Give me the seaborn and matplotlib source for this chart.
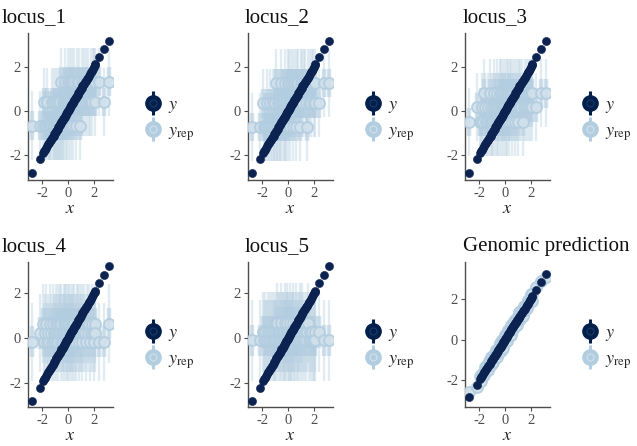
import numpy as np
import pandas as pd
import matplotlib
matplotlib.use("Agg")
import matplotlib.pyplot as plt
import seaborn as sns
from matplotlib.lines import Line2D

# ---------------- data ----------------
y_obs = [-2.80, -2.20, -1.92, -1.84, -1.76, -1.68, -1.60, -1.52, -1.45, -1.38,
         -1.31, -1.24, -1.18, -1.12, -1.06, -1.00, -0.95, -0.90, -0.85, -0.80,
         -0.75, -0.70, -0.65, -0.60, -0.55, -0.50, -0.46, -0.42, -0.38, -0.34,
         -0.30, -0.26, -0.22, -0.18, -0.14, -0.10, -0.06, -0.02, 0.02, 0.06,
         0.10, 0.14, 0.18, 0.22, 0.26, 0.30, 0.34, 0.38, 0.42, 0.46,
         0.50, 0.55, 0.60, 0.65, 0.70, 0.75, 0.80, 0.85, 0.90, 0.95,
         1.00, 1.06, 1.12, 1.18, 1.24, 1.31, 1.38, 1.45, 1.52, 1.60,
         1.68, 1.76, 1.84, 1.92, 2.00, 2.08, 2.12, 2.45, 2.80, 3.20]

panel_titles = ["locus_1", "locus_2", "locus_3", "locus_4", "locus_5", "Genomic prediction"]

geno_locus_1 = [0,0,0,1,0,0,1,0,0,0, 0,1,0,0,1,0,0,1,0,0, 1,0,0,1,0,2,0,1,0,1, 0,1,2,0,1,0,1,2,1,0,
                1,2,1,0,1,1,2,1,0,1, 2,1,1,0,2,1,1,2,1,0, 1,2,1,1,2,1,2,1,2,1, 1,2,1,2,2,1,2,2,1,2]
geno_locus_2 = [0,0,1,0,0,0,1,0,0,1, 0,0,1,0,0,1,0,2,0,1, 0,1,0,0,1,2,0,1,1,0, 1,0,2,1,0,1,1,2,0,1,
                2,1,0,1,2,1,1,0,2,1, 1,2,1,0,2,1,2,1,1,0, 2,1,2,1,2,2,1,0,2,1, 2,1,2,2,1,2,1,1,2,2]
geno_locus_3 = [0,1,0,0,1,0,2,1,0,0, 1,0,2,0,1,0,1,0,2,1, 0,1,0,2,1,0,1,2,0,1, 2,0,1,1,2,0,1,2,1,0,
                1,2,0,1,2,1,0,2,1,1, 2,0,1,2,1,0,2,1,2,1, 0,2,1,2,1,2,0,1,2,1, 2,1,2,1,2,1,2,1,2,2]
geno_locus_4 = [0,1,2,0,1,2,0,1,0,2, 1,0,2,1,0,1,2,0,1,2, 0,1,2,1,0,2,1,0,1,2, 1,0,2,1,2,0,1,2,0,1,
                2,1,0,2,1,0,1,2,1,0, 2,1,0,1,2,1,2,0,1,2, 1,0,2,1,2,1,0,2,1,2, 0,1,2,1,0,2,1,0,0,2]
geno_locus_5 = [0,0,1,0,1,0,0,1,0,1, 0,1,0,0,1,0,1,0,2,1, 0,1,0,1,2,0,1,0,1,0, 1,2,0,1,0,1,2,0,1,0,
                1,0,2,1,0,1,0,2,1,0, 1,0,1,2,0,1,0,1,2,0, 1,0,2,1,0,1,0,1,2,0, 1,0,1,0,0,1,0,1,0,0]

# median of y_rep for each genotype (0, 1, 2) per locus
locus_levels = {
    "locus_1": [-0.66, 0.40, 1.33],
    "locus_2": [-0.72, 0.35, 1.28],
    "locus_3": [-0.50, 0.17, 0.80],
    "locus_4": [-0.16, 0.24, 0.65],
    "locus_5": [-0.09, 0.28, 0.68],
}
# half widths of 50% and 90% predictive intervals
half_50 = {"locus_1": 0.65, "locus_2": 0.65, "locus_3": 0.65, "locus_4": 0.7, "locus_5": 0.7,
           "Genomic prediction": 0.12}
half_90 = {"locus_1": 1.55, "locus_2": 1.55, "locus_3": 1.55, "locus_4": 1.75, "locus_5": 1.8,
           "Genomic prediction": 0.30}

gp_offset = [0.25,-0.10,0.15,-0.20,0.10,0.05,-0.15,0.20,-0.05,0.12,
             -0.20,0.18,0.00,-0.12,0.22,-0.08,0.10,-0.18,0.05,0.15,
             -0.10,0.20,-0.22,0.08,0.00,-0.15,0.12,0.25,-0.05,-0.20,
             0.10,-0.12,0.18,0.02,-0.25,0.15,-0.08,0.05,0.20,-0.15,
             0.08,-0.20,0.12,0.25,-0.10,0.02,-0.18,0.15,0.05,-0.22,
             0.20,-0.05,0.10,-0.15,0.22,0.00,-0.12,0.18,-0.20,0.08,
             0.15,-0.10,0.25,-0.18,0.05,0.12,-0.22,0.20,-0.05,0.10,
             -0.15,0.18,0.02,-0.10,0.22,-0.20,0.10,0.15,0.05,-0.12]

genos = {"locus_1": geno_locus_1, "locus_2": geno_locus_2, "locus_3": geno_locus_3,
         "locus_4": geno_locus_4, "locus_5": geno_locus_5}

# ---------------- style ----------------
sns.set_theme(style="white")
plt.rcParams['font.family'] = ['Liberation Serif', 'DejaVu Serif']
plt.rcParams['mathtext.fontset'] = 'stix'

C_L = "#d1e1ec"
C_LH = "#b3cde0"
C_D = "#0c2352"
C_DH = "#011f4b"
AX_COL = "#4d4d4d"

W, H = 637, 446
fig = plt.figure(figsize=(W / 100, H / 100), dpi=100)

lefts = [28, 248, 465]
row_top = [33, 262]
row_bot = [180, 407]
ax_w = 85
title_x = [2, 245, 463]
title_base = [22, 251]

for i, name in enumerate(panel_titles):
    r, c = divmod(i, 3)
    l = lefts[c]
    t, b = row_top[r], row_bot[r]
    ax = fig.add_axes([l / W, 1 - b / H, ax_w / W, (b - t) / H])

    yo = np.array(y_obs)
    if name in genos:
        lv = np.array(locus_levels[name])
        med = lv[np.array(genos[name])]
    else:
        med = yo + np.array(gp_offset)
    df = pd.DataFrame({"x": yo, "y": yo, "med": med})

    lc1 = ax.vlines(df["x"], df["med"] - half_90[name], df["med"] + half_90[name],
                    color=C_LH, alpha=0.4, lw=1.7)
    lc1.set_zorder(1)
    lc2 = ax.vlines(df["x"], df["med"] - half_50[name], df["med"] + half_50[name],
                    color=C_LH, alpha=0.55, lw=3.2)
    lc2.set_zorder(2)
    n0 = len(ax.collections)
    sns.scatterplot(data=df, x="x", y="med", ax=ax, s=62, color=C_L, edgecolor=C_LH,
                    linewidth=1.4, alpha=0.9, legend=False)
    for coll in ax.collections[n0:]:
        coll.set_zorder(3)
    n1 = len(ax.collections)
    sns.scatterplot(data=df, x="x", y="y", ax=ax, s=34, color=C_D, edgecolor=C_D,
                    linewidth=0.4, legend=False)
    for coll in ax.collections[n1:]:
        coll.set_zorder(5)

    ax.set_xlim(-3.1, 3.5)
    if r == 0:
        ax.set_ylim(-3.14, 3.55)
    elif name == "Genomic prediction":
        ax.set_ylim(-3.3, 3.8)
    else:
        ax.set_ylim(-3.07, 3.4)
    ax.set_xticks([-2, 0, 2])
    ax.set_yticks([-2, 0, 2])
    ax.set_xticklabels(["-2", "0", "2"])
    ax.set_yticklabels(["-2", "0", "2"])
    for s in ["top", "right"]:
        ax.spines[s].set_visible(False)
    for s in ["left", "bottom"]:
        ax.spines[s].set_color(AX_COL)
        ax.spines[s].set_linewidth(1.0)
    ax.tick_params(axis="both", length=3, width=0.8, color=AX_COL, labelcolor=AX_COL,
                   labelsize=10.5, pad=2, bottom=True, left=True)
    ax.set_xlabel("$x$", fontsize=13, labelpad=0, color="#222222")
    ax.set_ylabel("")

    # legend (overlaid pointrange-like keys)
    h_y = (Line2D([], [], marker="|", markersize=17, mew=2.2, color=C_DH, ls=""),
           Line2D([], [], marker="o", markersize=11, mfc=C_DH, mec=C_DH, ls=""),
           Line2D([], [], marker="o", markersize=5, mfc="none", mec="#1d3a6a", mew=0.8, ls=""))
    h_r = (Line2D([], [], marker="|", markersize=17, mew=2.2, color=C_LH, ls=""),
           Line2D([], [], marker="o", markersize=11, mfc=C_LH, mec=C_LH, ls=""),
           Line2D([], [], marker="o", markersize=5, mfc="none", mec=C_L, mew=0.8, ls=""))
    ax.legend([h_y, h_r], ["$y$", "$y_{\\mathrm{rep}}$"],
              loc="center left", bbox_to_anchor=(1.17, 0.41), frameon=False,
              fontsize=13, handlelength=1.0, handletextpad=0.35, labelspacing=0.4)

    fig.text(title_x[c] / W, 1 - title_base[r] / H, name, fontsize=15,
             ha="left", va="baseline", color="#111111")

fig.savefig("out.png", dpi=100)
